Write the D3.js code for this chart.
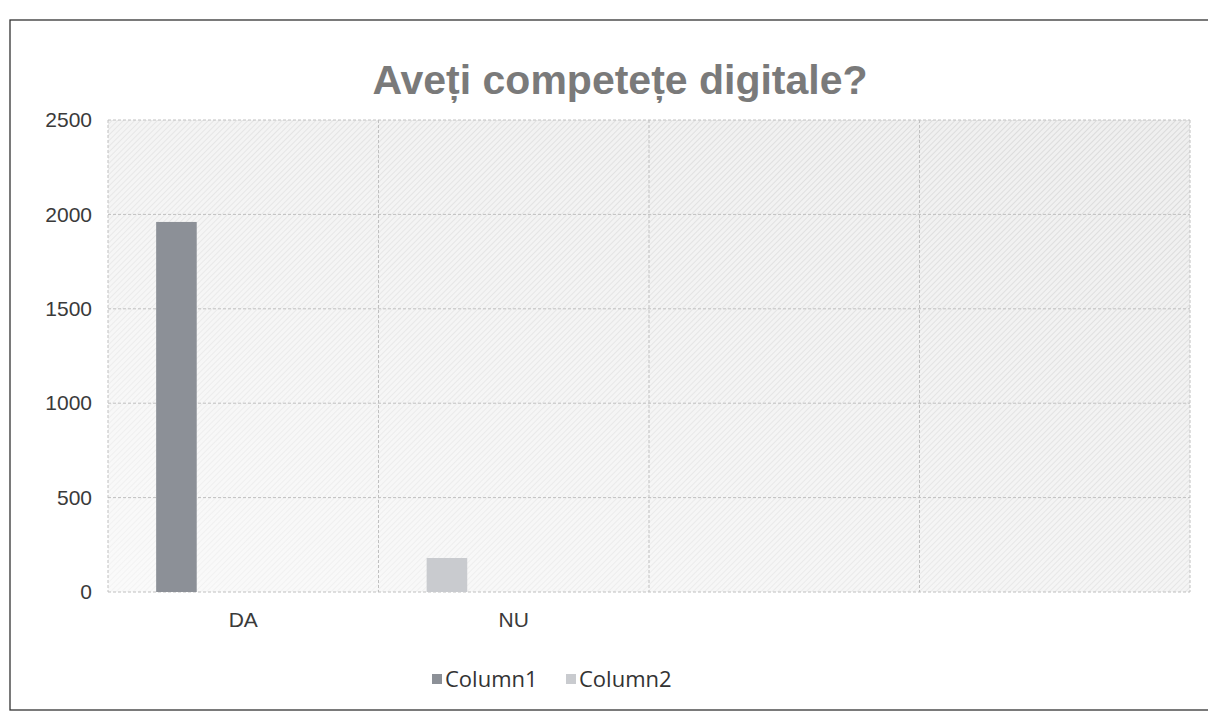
<!DOCTYPE html>
<meta charset="utf-8">
<style>
body {
  margin: 0;
  background: #fff;
  font-family: "Open Sans", sans-serif;
}
.axis text {
  font-size: 21px;
  fill: #3a3a3a;
}
.grid line {
  stroke: #c0c0c0;
  stroke-width: 1;
  stroke-dasharray: 3 2;
}
</style>
<body>
<script src="https://cdn.jsdelivr.net/npm/d3@7"></script>
<script>

var width = 1208,
    height = 724;

var categories = ["DA", "NU", "", " "];
var series = ["Column1", "Column2"];
// one value per category; NU bar sits in the first slot like the scan shows
var values = [1960, 180, 0, 0];
var pointSeries = ["Column1", "Column2", "Column1", "Column1"];
var yTicks = [0, 500, 1000, 1500, 2000, 2500];

var colors = {"Column1": "#8c9097", "Column2": "#c9cbcf"};

var plot = {left: 108, right: 1190, top: 120, bottom: 592};

var svg = d3.select("body").append("svg")
    .attr("width", width)
    .attr("height", height);

var defs = svg.append("defs");

var hatch = defs.append("pattern")
    .attr("id", "hatch")
    .attr("patternUnits", "userSpaceOnUse")
    .attr("width", 4)
    .attr("height", 4)
    .attr("patternTransform", "rotate(45)");
hatch.append("rect")
    .attr("width", 4).attr("height", 4)
    .attr("fill", "#efefef");
hatch.append("line")
    .attr("x1", 0).attr("y1", 0).attr("x2", 0).attr("y2", 4)
    .attr("stroke", "#d2d2d2")
    .attr("stroke-width", 1.4);

var fade = defs.append("linearGradient")
    .attr("id", "fade")
    .attr("x1", 0).attr("y1", 1).attr("x2", 1).attr("y2", 0);
fade.append("stop").attr("offset", "0%").attr("stop-color", "#fff").attr("stop-opacity", 0.7);
fade.append("stop").attr("offset", "55%").attr("stop-color", "#fff").attr("stop-opacity", 0.3);
fade.append("stop").attr("offset", "100%").attr("stop-color", "#fff").attr("stop-opacity", 0);

// chart frame
svg.append("rect")
    .attr("x", 10).attr("y", 20)
    .attr("width", 1215).attr("height", 690)
    .attr("fill", "none")
    .attr("stroke", "#333")
    .attr("stroke-width", 1.3);

svg.append("text")
    .attr("x", 620)
    .attr("y", 94)
    .attr("text-anchor", "middle")
    .style("font-family", "'Liberation Sans', Arial, sans-serif")
    .style("font-size", "41px")
    .style("font-weight", "bold")
    .style("fill", "#7a7a7a")
    .text("Aveți competețe digitale?");

var x0 = d3.scaleBand()
    .domain(categories)
    .range([plot.left, plot.right])
    .paddingInner(0)
    .paddingOuter(0);

var y = d3.scaleLinear()
    .domain([0, 2500])
    .range([plot.bottom, plot.top]);

// plot background
svg.append("rect")
    .attr("x", plot.left).attr("y", plot.top)
    .attr("width", plot.right - plot.left).attr("height", plot.bottom - plot.top)
    .attr("fill", "url(#hatch)");
svg.append("rect")
    .attr("x", plot.left).attr("y", plot.top)
    .attr("width", plot.right - plot.left).attr("height", plot.bottom - plot.top)
    .attr("fill", "url(#fade)");

var grid = svg.append("g").attr("class", "grid");
grid.selectAll(".h")
    .data(yTicks)
  .enter().append("line")
    .attr("class", "h")
    .attr("x1", plot.left).attr("x2", plot.right)
    .attr("y1", function(d) { return y(d); })
    .attr("y2", function(d) { return y(d); });
grid.selectAll(".v")
    .data(categories.concat(["end"]))
  .enter().append("line")
    .attr("class", "v")
    .attr("x1", function(d, i) { return plot.left + i * x0.bandwidth(); })
    .attr("x2", function(d, i) { return plot.left + i * x0.bandwidth(); })
    .attr("y1", plot.top).attr("y2", plot.bottom);

// bars
var barOffset = 0.178, barWidth = 0.15;
svg.selectAll(".bar")
    .data(values)
  .enter().append("rect")
    .attr("class", "bar")
    .attr("x", function(d, i) { return x0(categories[i]) + x0.bandwidth() * barOffset; })
    .attr("width", x0.bandwidth() * barWidth)
    .attr("y", function(d) { return y(d); })
    .attr("height", function(d) { return y(0) - y(d); })
    .attr("fill", function(d, i) { return colors[pointSeries[i]]; });

// y axis
var yAxis = svg.append("g")
    .attr("class", "axis")
    .attr("transform", "translate(" + (plot.left - 16) + ",0)")
    .call(d3.axisLeft(y).tickValues(yTicks).tickFormat(d3.format("d")).tickSize(0).tickPadding(0));
yAxis.select(".domain").remove();

// x axis
var xAxis = svg.append("g")
    .attr("class", "axis")
    .attr("transform", "translate(0," + (plot.bottom + 14) + ")")
    .call(d3.axisBottom(x0).tickSize(0).tickPadding(6));
xAxis.select(".domain").remove();

// legend
var legend = svg.append("g")
    .attr("transform", "translate(432,679)");
var item = legend.selectAll(".item")
    .data(series)
  .enter().append("g")
    .attr("transform", function(d, i) { return "translate(" + (i * 134) + ",0)"; });
item.append("rect")
    .attr("x", 0).attr("y", -5)
    .attr("width", 10).attr("height", 10)
    .attr("fill", function(d) { return colors[d]; });
item.append("text")
    .attr("x", 13)
    .attr("dy", "0.35em")
    .style("font-size", "22px")
    .style("fill", "#333")
    .text(function(d) { return d; });

</script>
